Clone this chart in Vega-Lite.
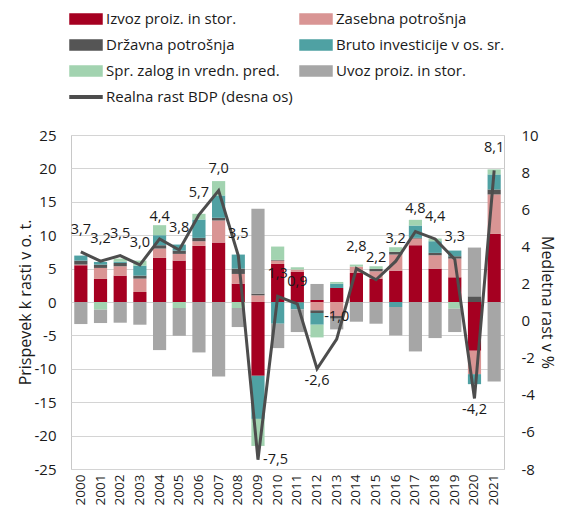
{
  "$schema": "https://vega.github.io/schema/vega-lite/v6.json",
  "width": 433,
  "height": 334,
  "padding": {"left": 17, "top": 8, "right": 4, "bottom": 4},
  "datasets": {
    "comp": [
      {"year": "2000", "comp": "Izvoz proiz. in stor.", "v": 5.5},
      {"year": "2000", "comp": "Zasebna potrošnja", "v": 0.1},
      {"year": "2000", "comp": "Državna potrošnja", "v": 0.6},
      {"year": "2000", "comp": "Bruto investicije v os. sr.", "v": 0.75},
      {"year": "2000", "comp": "Uvoz proiz. in stor.", "v": -3.3},
      {"year": "2001", "comp": "Izvoz proiz. in stor.", "v": 3.45},
      {"year": "2001", "comp": "Zasebna potrošnja", "v": 1.65},
      {"year": "2001", "comp": "Državna potrošnja", "v": 0.5},
      {"year": "2001", "comp": "Bruto investicije v os. sr.", "v": 0.4},
      {"year": "2001", "comp": "Spr. zalog in vredn. pred.", "v": -1.15},
      {"year": "2001", "comp": "Uvoz proiz. in stor.", "v": -2.0},
      {"year": "2002", "comp": "Izvoz proiz. in stor.", "v": 3.95},
      {"year": "2002", "comp": "Zasebna potrošnja", "v": 1.4},
      {"year": "2002", "comp": "Državna potrošnja", "v": 0.5},
      {"year": "2002", "comp": "Bruto investicije v os. sr.", "v": 0.2},
      {"year": "2002", "comp": "Spr. zalog in vredn. pred.", "v": 0.45},
      {"year": "2002", "comp": "Uvoz proiz. in stor.", "v": -3.1},
      {"year": "2003", "comp": "Izvoz proiz. in stor.", "v": 1.5},
      {"year": "2003", "comp": "Zasebna potrošnja", "v": 2.0},
      {"year": "2003", "comp": "Državna potrošnja", "v": 0.45},
      {"year": "2003", "comp": "Bruto investicije v os. sr.", "v": 1.5},
      {"year": "2003", "comp": "Spr. zalog in vredn. pred.", "v": 0.75},
      {"year": "2003", "comp": "Uvoz proiz. in stor.", "v": -3.4},
      {"year": "2004", "comp": "Izvoz proiz. in stor.", "v": 6.6},
      {"year": "2004", "comp": "Zasebna potrošnja", "v": 1.4},
      {"year": "2004", "comp": "Državna potrošnja", "v": 0.5},
      {"year": "2004", "comp": "Bruto investicije v os. sr.", "v": 1.5},
      {"year": "2004", "comp": "Spr. zalog in vredn. pred.", "v": 1.5},
      {"year": "2004", "comp": "Uvoz proiz. in stor.", "v": -7.2},
      {"year": "2005", "comp": "Izvoz proiz. in stor.", "v": 6.2},
      {"year": "2005", "comp": "Zasebna potrošnja", "v": 1.0},
      {"year": "2005", "comp": "Državna potrošnja", "v": 0.5},
      {"year": "2005", "comp": "Bruto investicije v os. sr.", "v": 0.9},
      {"year": "2005", "comp": "Spr. zalog in vredn. pred.", "v": -0.9},
      {"year": "2005", "comp": "Uvoz proiz. in stor.", "v": -4.15},
      {"year": "2006", "comp": "Izvoz proiz. in stor.", "v": 8.4},
      {"year": "2006", "comp": "Zasebna potrošnja", "v": 0.7},
      {"year": "2006", "comp": "Državna potrošnja", "v": 0.5},
      {"year": "2006", "comp": "Bruto investicije v os. sr.", "v": 2.75},
      {"year": "2006", "comp": "Spr. zalog in vredn. pred.", "v": 0.85},
      {"year": "2006", "comp": "Uvoz proiz. in stor.", "v": -7.55},
      {"year": "2007", "comp": "Izvoz proiz. in stor.", "v": 8.9},
      {"year": "2007", "comp": "Zasebna potrošnja", "v": 3.3},
      {"year": "2007", "comp": "Državna potrošnja", "v": 0.4},
      {"year": "2007", "comp": "Bruto investicije v os. sr.", "v": 3.35},
      {"year": "2007", "comp": "Spr. zalog in vredn. pred.", "v": 2.15},
      {"year": "2007", "comp": "Uvoz proiz. in stor.", "v": -11.15},
      {"year": "2008", "comp": "Izvoz proiz. in stor.", "v": 2.75},
      {"year": "2008", "comp": "Zasebna potrošnja", "v": 1.45},
      {"year": "2008", "comp": "Državna potrošnja", "v": 0.8},
      {"year": "2008", "comp": "Bruto investicije v os. sr.", "v": 2.1},
      {"year": "2008", "comp": "Spr. zalog in vredn. pred.", "v": -0.9},
      {"year": "2008", "comp": "Uvoz proiz. in stor.", "v": -2.85},
      {"year": "2009", "comp": "Izvoz proiz. in stor.", "v": -11.05},
      {"year": "2009", "comp": "Zasebna potrošnja", "v": 1.0},
      {"year": "2009", "comp": "Državna potrošnja", "v": 0.25},
      {"year": "2009", "comp": "Bruto investicije v os. sr.", "v": -6.45},
      {"year": "2009", "comp": "Spr. zalog in vredn. pred.", "v": -4.05},
      {"year": "2009", "comp": "Uvoz proiz. in stor.", "v": 12.7},
      {"year": "2010", "comp": "Izvoz proiz. in stor.", "v": 5.7},
      {"year": "2010", "comp": "Zasebna potrošnja", "v": 0.5},
      {"year": "2010", "comp": "Državna potrošnja", "v": 0.1},
      {"year": "2010", "comp": "Bruto investicije v os. sr.", "v": -3.25},
      {"year": "2010", "comp": "Spr. zalog in vredn. pred.", "v": 2.0},
      {"year": "2010", "comp": "Uvoz proiz. in stor.", "v": -3.65},
      {"year": "2011", "comp": "Izvoz proiz. in stor.", "v": 4.5},
      {"year": "2011", "comp": "Zasebna potrošnja", "v": 0.35},
      {"year": "2011", "comp": "Državna potrošnja", "v": -0.1},
      {"year": "2011", "comp": "Bruto investicije v os. sr.", "v": -1.0},
      {"year": "2011", "comp": "Spr. zalog in vredn. pred.", "v": 0.35},
      {"year": "2011", "comp": "Uvoz proiz. in stor.", "v": -3.4},
      {"year": "2012", "comp": "Izvoz proiz. in stor.", "v": 0.3},
      {"year": "2012", "comp": "Zasebna potrošnja", "v": -1.25},
      {"year": "2012", "comp": "Državna potrošnja", "v": -0.4},
      {"year": "2012", "comp": "Bruto investicije v os. sr.", "v": -1.75},
      {"year": "2012", "comp": "Spr. zalog in vredn. pred.", "v": -1.9},
      {"year": "2012", "comp": "Uvoz proiz. in stor.", "v": 2.4},
      {"year": "2013", "comp": "Izvoz proiz. in stor.", "v": 2.1},
      {"year": "2013", "comp": "Zasebna potrošnja", "v": -2.1},
      {"year": "2013", "comp": "Državna potrošnja", "v": -0.4},
      {"year": "2013", "comp": "Bruto investicije v os. sr.", "v": 0.65},
      {"year": "2013", "comp": "Spr. zalog in vredn. pred.", "v": 0.25},
      {"year": "2013", "comp": "Uvoz proiz. in stor.", "v": -1.6},
      {"year": "2014", "comp": "Izvoz proiz. in stor.", "v": 4.35},
      {"year": "2014", "comp": "Zasebna potrošnja", "v": 0.95},
      {"year": "2014", "comp": "Spr. zalog in vredn. pred.", "v": 0.3},
      {"year": "2014", "comp": "Uvoz proiz. in stor.", "v": -2.95},
      {"year": "2015", "comp": "Izvoz proiz. in stor.", "v": 3.5},
      {"year": "2015", "comp": "Zasebna potrošnja", "v": 1.1},
      {"year": "2015", "comp": "Državna potrošnja", "v": 0.35},
      {"year": "2015", "comp": "Spr. zalog in vredn. pred.", "v": 0.4},
      {"year": "2015", "comp": "Uvoz proiz. in stor.", "v": -3.25},
      {"year": "2016", "comp": "Izvoz proiz. in stor.", "v": 4.7},
      {"year": "2016", "comp": "Zasebna potrošnja", "v": 2.4},
      {"year": "2016", "comp": "Državna potrošnja", "v": 0.4},
      {"year": "2016", "comp": "Bruto investicije v os. sr.", "v": -0.75},
      {"year": "2016", "comp": "Spr. zalog in vredn. pred.", "v": 0.7},
      {"year": "2016", "comp": "Uvoz proiz. in stor.", "v": -4.25},
      {"year": "2017", "comp": "Izvoz proiz. in stor.", "v": 8.5},
      {"year": "2017", "comp": "Zasebna potrošnja", "v": 1.0},
      {"year": "2017", "comp": "Državna potrošnja", "v": 0.1},
      {"year": "2017", "comp": "Bruto investicije v os. sr.", "v": 1.85},
      {"year": "2017", "comp": "Spr. zalog in vredn. pred.", "v": 0.85},
      {"year": "2017", "comp": "Uvoz proiz. in stor.", "v": -7.4},
      {"year": "2018", "comp": "Izvoz proiz. in stor.", "v": 5.0},
      {"year": "2018", "comp": "Zasebna potrošnja", "v": 2.0},
      {"year": "2018", "comp": "Državna potrošnja", "v": 0.35},
      {"year": "2018", "comp": "Bruto investicije v os. sr.", "v": 1.75},
      {"year": "2018", "comp": "Spr. zalog in vredn. pred.", "v": 0.4},
      {"year": "2018", "comp": "Uvoz proiz. in stor.", "v": -5.4},
      {"year": "2019", "comp": "Izvoz proiz. in stor.", "v": 3.7},
      {"year": "2019", "comp": "Zasebna potrošnja", "v": 2.8},
      {"year": "2019", "comp": "Državna potrošnja", "v": 0.35},
      {"year": "2019", "comp": "Bruto investicije v os. sr.", "v": 0.85},
      {"year": "2019", "comp": "Spr. zalog in vredn. pred.", "v": -1.0},
      {"year": "2019", "comp": "Uvoz proiz. in stor.", "v": -3.5},
      {"year": "2020", "comp": "Izvoz proiz. in stor.", "v": -7.3},
      {"year": "2020", "comp": "Zasebna potrošnja", "v": -3.5},
      {"year": "2020", "comp": "Državna potrošnja", "v": 0.85},
      {"year": "2020", "comp": "Bruto investicije v os. sr.", "v": -1.5},
      {"year": "2020", "comp": "Uvoz proiz. in stor.", "v": 7.3},
      {"year": "2021", "comp": "Izvoz proiz. in stor.", "v": 10.2},
      {"year": "2021", "comp": "Zasebna potrošnja", "v": 5.9},
      {"year": "2021", "comp": "Državna potrošnja", "v": 0.75},
      {"year": "2021", "comp": "Bruto investicije v os. sr.", "v": 2.25},
      {"year": "2021", "comp": "Spr. zalog in vredn. pred.", "v": 0.75},
      {"year": "2021", "comp": "Uvoz proiz. in stor.", "v": -11.9}
    ],
    "gdp": [
      {"year": "2000", "g": 3.7}, {"year": "2001", "g": 3.2}, {"year": "2002", "g": 3.5},
      {"year": "2003", "g": 3.0}, {"year": "2004", "g": 4.4}, {"year": "2005", "g": 3.8},
      {"year": "2006", "g": 5.7}, {"year": "2007", "g": 7.0}, {"year": "2008", "g": 3.5},
      {"year": "2009", "g": -7.5}, {"year": "2010", "g": 1.3}, {"year": "2011", "g": 0.9},
      {"year": "2012", "g": -2.6}, {"year": "2013", "g": -1.0}, {"year": "2014", "g": 2.8},
      {"year": "2015", "g": 2.2}, {"year": "2016", "g": 3.2}, {"year": "2017", "g": 4.8},
      {"year": "2018", "g": 4.4}, {"year": "2019", "g": 3.3}, {"year": "2020", "g": -4.2},
      {"year": "2021", "g": 8.1}
    ]
  },
  "config": {
    "font": "Open Sans",
    "locale": {"number": {"decimal": ",", "thousands": ".", "grouping": [3], "currency": ["", " €"], "minus": "-"}},
    "view": {"stroke": "#c8c8c8"},
    "axis": {
      "labelFontSize": 15, "titleFontSize": 16, "labelColor": "#1a1a1a", "titleColor": "#1a1a1a",
      "titleFontWeight": "normal", "ticks": false, "domain": false, "gridColor": "#d4d4d4", "labelFont": "Open Sans", "titleFont": "Open Sans"
    },
    "legend": {"labelFont": "Open Sans"}
  },
  "layer": [
    {
      "data": {"name": "comp"},
      "transform": [
        {"calculate": "indexof(['Izvoz proiz. in stor.', 'Zasebna potrošnja', 'Državna potrošnja', 'Bruto investicije v os. sr.', 'Spr. zalog in vredn. pred.', 'Uvoz proiz. in stor.'], datum.comp)", "as": "k"}
      ],
      "mark": {"type": "bar"},
      "encoding": {
        "x": {
          "field": "year", "type": "nominal",
          "scale": {"paddingInner": 0.33, "paddingOuter": 0.165},
          "axis": {"title": null, "labelAngle": -90, "labelFontSize": 13.5, "labelPadding": 5}
        },
        "y": {
          "field": "v", "type": "quantitative", "stack": "zero",
          "scale": {"domain": [-25, 25], "nice": false},
          "axis": {"title": "Prispevek k rasti v o. t.", "values": [-25, -20, -15, -10, -5, 0, 5, 10, 15, 20, 25], "labelPadding": 15, "titlePadding": 1, "grid": true}
        },
        "order": {"field": "k", "type": "quantitative", "sort": "ascending"},
        "color": {
          "field": "comp", "type": "nominal",
          "scale": {
            "domain": ["Izvoz proiz. in stor.", "Zasebna potrošnja", "Državna potrošnja", "Bruto investicije v os. sr.", "Spr. zalog in vredn. pred.", "Uvoz proiz. in stor.", "Realna rast BDP (desna os)"],
            "range": ["#a50021", "#d99594", "#555555", "#4fa1a3", "#a2d3b0", "#a6a6a6", "#4d4d4d"]
          },
          "legend": {
            "title": null, "orient": "none", "legendX": 4, "legendY": -127, "columns": 2, "direction": "horizontal",
            "symbolType": "M-1.6,-0.5H1.6V0.5H-1.6Z", "symbolSize": 400,
            "labelFontSize": 15, "labelColor": "#1a1a1a", "labelLimit": 300, "labelOffset": 9,
            "rowPadding": 7, "columnPadding": 4,
            "encode": {
              "symbols": {
                "update": {
                  "fill": {"scale": "color", "field": "value"},
                  "stroke": {"value": "transparent"},
                  "opacity": {"value": 1},
                  "fillOpacity": {"value": 1},
                  "shape": {"signal": "datum.value === 'Realna rast BDP (desna os)' ? 'M-1.6,-0.12H1.6V0.12H-1.6Z' : 'M-1.6,-0.5H1.6V0.5H-1.6Z'"}
                }
              }
            }
          }
        }
      }
    },
    {
      "data": {"name": "gdp"},
      "encoding": {
        "x": {"field": "year", "type": "nominal"},
        "y": {
          "field": "g", "type": "quantitative",
          "scale": {"domain": [-8, 10], "nice": false},
          "axis": {"title": "Medletna rast v %", "orient": "right", "values": [-8, -6, -4, -2, 0, 2, 4, 6, 8, 10], "grid": false, "labelPadding": 17, "titlePadding": 0}
        }
      },
      "layer": [
        {
          "mark": {"type": "line", "strokeWidth": 3},
          "encoding": {"color": {"datum": "Realna rast BDP (desna os)"}}
        },
        {
          "transform": [{"filter": "datum.g > 0 || datum.year == '2013'"}],
          "mark": {"type": "text", "baseline": "middle", "dy": -22, "fontSize": 14.5, "color": "#1a1a1a"},
          "encoding": {"text": {"field": "g", "type": "quantitative", "format": ".1f"}}
        },
        {
          "transform": [{"filter": "datum.year == '2012' || datum.year == '2020'"}],
          "mark": {"type": "text", "baseline": "middle", "dy": 12, "fontSize": 14.5, "color": "#1a1a1a"},
          "encoding": {"text": {"field": "g", "type": "quantitative", "format": ".1f"}}
        },
        {
          "transform": [{"filter": "datum.year == '2009'"}],
          "mark": {"type": "text", "baseline": "middle", "align": "left", "dx": 5, "dy": 0, "fontSize": 14.5, "color": "#1a1a1a"},
          "encoding": {"text": {"field": "g", "type": "quantitative", "format": ".1f"}}
        }
      ]
    }
  ],
  "resolve": {"scale": {"y": "independent"}}
}
